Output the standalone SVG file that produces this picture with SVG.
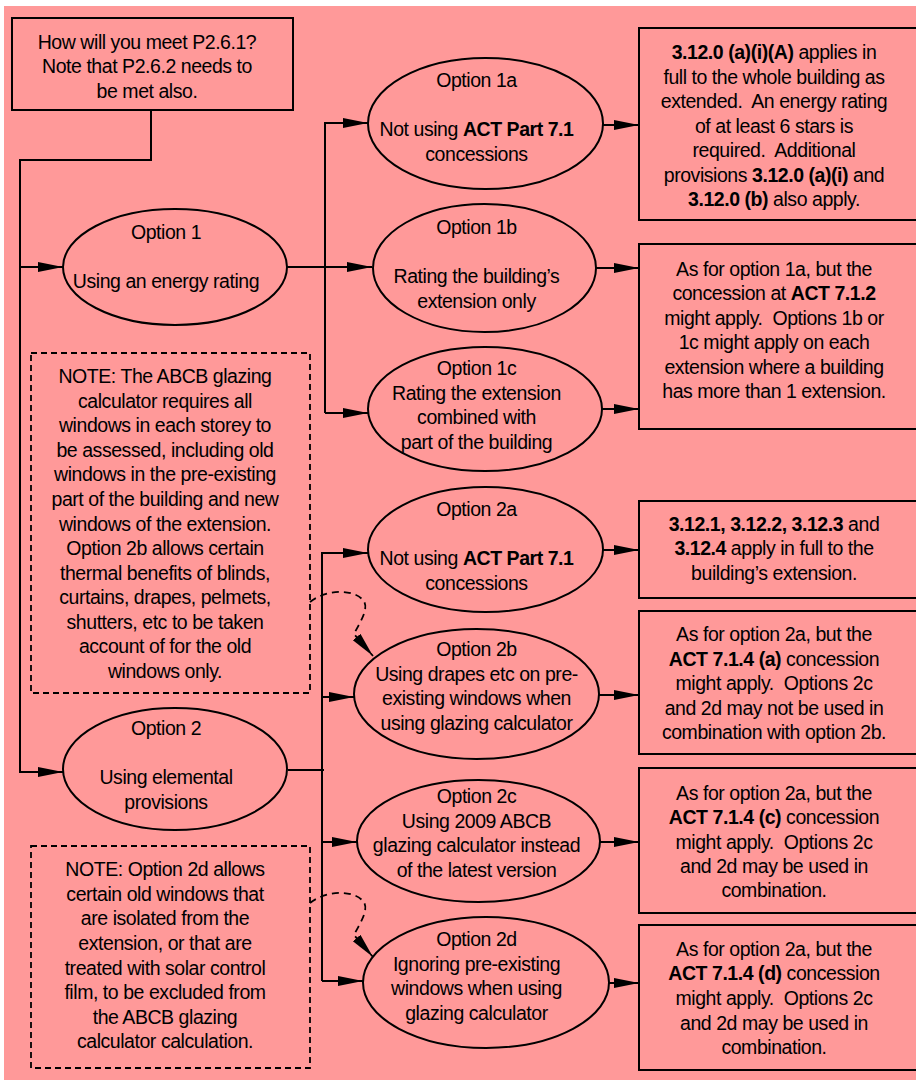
<svg xmlns="http://www.w3.org/2000/svg" width="916" height="1081" viewBox="0 0 916 1081">
<style>
.t{font-family:"Liberation Sans",Arial,sans-serif;font-size:19.5px;letter-spacing:-0.45px;text-anchor:middle;fill:#000}
.b{font-weight:bold}
.sh{fill:#FF9999;stroke:#000;stroke-width:2}
.nt{fill:none;stroke:#000;stroke-width:1.8;stroke-dasharray:6 4}
.c{fill:none;stroke:#000;stroke-width:2}
.cd{fill:none;stroke:#000;stroke-width:1.8;stroke-dasharray:7 5}
</style>
<defs>
<marker id="ah" markerUnits="userSpaceOnUse" markerWidth="26" markerHeight="12" refX="25" refY="5" orient="auto">
<path d="M0,0 L25,5 L0,10 Z" fill="#000"/>
</marker>
</defs>
<rect x="4" y="6" width="920" height="1074" fill="#FF9999"/>

<g id="connectors">
<path class="c" d="M151,110 V160 H20 V772 H63" marker-end="url(#ah)"/>
<path class="c" d="M20,267 H63" marker-end="url(#ah)"/>
<path class="c" d="M287,267 H372" marker-end="url(#ah)"/>
<path class="c" d="M325,413 V123 H368" marker-end="url(#ah)"/>
<path class="c" d="M325,413 H368" marker-end="url(#ah)"/>
<path class="c" d="M288,770 H324"/>
<path class="c" d="M322,981 V553 H368" marker-end="url(#ah)"/>
<path class="c" d="M322,697 H354" marker-end="url(#ah)"/>
<path class="c" d="M322,842 H357" marker-end="url(#ah)"/>
<path class="c" d="M322,981 H363" marker-end="url(#ah)"/>
<path class="c" d="M603,125 H639" marker-end="url(#ah)"/>
<path class="c" d="M596,268 H639" marker-end="url(#ah)"/>
<path class="c" d="M602,409 H639" marker-end="url(#ah)"/>
<path class="c" d="M603,550 H639" marker-end="url(#ah)"/>
<path class="c" d="M599,695 H639" marker-end="url(#ah)"/>
<path class="c" d="M600,842 H639" marker-end="url(#ah)"/>
<path class="c" d="M605,983 H639" marker-end="url(#ah)"/>
<path class="cd" d="M310,602 C325,590 352,588 363,600 C370,608 360,622 354,634 L373,656" marker-end="url(#ah)"/>
<path class="cd" d="M310,903 C325,891 352,889 363,901 C370,909 360,923 354,935 L373,957" marker-end="url(#ah)"/>
</g>

<g id="start">
<rect class="sh" x="12" y="18" width="281" height="92"/>
<text class="t"><tspan x="147" y="49">How will you meet P2.6.1?</tspan><tspan x="147" y="73">Note that P2.6.2 needs to</tspan><tspan x="147" y="97.5">be met also.</tspan></text>
</g>

<g id="option1">
<ellipse class="sh" cx="175" cy="267" rx="112" ry="58"/>
<text class="t"><tspan x="166" y="238.5">Option 1</tspan><tspan x="166" y="287.5">Using an energy rating</tspan></text>
</g>

<g id="option2">
<ellipse class="sh" cx="175" cy="769" rx="112" ry="61"/>
<text class="t"><tspan x="166" y="735">Option 2</tspan><tspan x="166" y="784.3">Using elemental</tspan><tspan x="166" y="808.8">provisions</tspan></text>
</g>

<g id="note1">
<rect class="nt" x="31" y="353" width="279" height="340"/>
<text class="t"><tspan x="165" y="383.3">NOTE: The ABCB glazing</tspan><tspan x="165" y="407.8">calculator requires all</tspan><tspan x="165" y="432.4">windows in each storey to</tspan><tspan x="165" y="456.9">be assessed, including old</tspan><tspan x="165" y="481.4">windows in the pre-existing</tspan><tspan x="165" y="506">part of the building and new</tspan><tspan x="165" y="530.5">windows of the extension.</tspan><tspan x="165" y="555">Option 2b allows certain</tspan><tspan x="165" y="579.5">thermal benefits of blinds,</tspan><tspan x="165" y="604.1">curtains, drapes, pelmets,</tspan><tspan x="165" y="628.6">shutters, etc to be taken</tspan><tspan x="165" y="653.1">account of for the old</tspan><tspan x="165" y="677.7">windows only.</tspan></text>
</g>

<g id="note2">
<rect class="nt" x="31" y="846" width="279" height="222"/>
<text class="t"><tspan x="165" y="876">NOTE: Option 2d allows</tspan><tspan x="165" y="900.6">certain old windows that</tspan><tspan x="165" y="925.2">are isolated from the</tspan><tspan x="165" y="949.8">extension, or that are</tspan><tspan x="165" y="974.5">treated with solar control</tspan><tspan x="165" y="999.1">film, to be excluded from</tspan><tspan x="165" y="1023.7">the ABCB glazing</tspan><tspan x="165" y="1048.3">calculator calculation.</tspan></text>
</g>

<g id="option1a">
<ellipse class="sh" cx="485.5" cy="123.5" rx="117.5" ry="65.5"/>
<text class="t"><tspan x="476.5" y="87.3">Option 1a</tspan><tspan x="476.5" y="136.3">Not using <tspan class="b">ACT Part 7.1</tspan></tspan><tspan x="476.5" y="160.8">concessions</tspan></text>
</g>

<g id="option1b">
<ellipse class="sh" cx="484.5" cy="268" rx="111.5" ry="64"/>
<text class="t"><tspan x="476.5" y="234.3">Option 1b</tspan><tspan x="476.5" y="283.3">Rating the building’s</tspan><tspan x="476.5" y="307.8">extension only</tspan></text>
</g>

<g id="option1c">
<ellipse class="sh" cx="485" cy="409" rx="117" ry="62"/>
<text class="t"><tspan x="476.5" y="375">Option 1c</tspan><tspan x="476.5" y="399.5">Rating the extension</tspan><tspan x="476.5" y="424">combined with</tspan><tspan x="476.5" y="448.5">part of the building</tspan></text>
</g>

<g id="option2a">
<ellipse class="sh" cx="485.5" cy="549.5" rx="117.5" ry="62.5"/>
<text class="t"><tspan x="476.5" y="516">Option 2a</tspan><tspan x="476.5" y="565">Not using <tspan class="b">ACT Part 7.1</tspan></tspan><tspan x="476.5" y="589.5">concessions</tspan></text>
</g>

<g id="option2b">
<ellipse class="sh" cx="476.5" cy="694" rx="122.5" ry="65"/>
<text class="t"><tspan x="476.5" y="656">Option 2b</tspan><tspan x="476.5" y="680.5">Using drapes etc on pre-</tspan><tspan x="476.5" y="705">existing windows when</tspan><tspan x="476.5" y="729.5">using glazing calculator</tspan></text>
</g>

<g id="option2c">
<ellipse class="sh" cx="478.5" cy="841" rx="121.5" ry="61"/>
<text class="t"><tspan x="476.5" y="803.3">Option 2c</tspan><tspan x="476.5" y="827.8">Using 2009 ABCB</tspan><tspan x="476.5" y="852.3">glazing calculator instead</tspan><tspan x="476.5" y="876.8">of the latest version</tspan></text>
</g>

<g id="option2d">
<ellipse class="sh" cx="486" cy="982.5" rx="123" ry="65.5"/>
<text class="t"><tspan x="476.5" y="946">Option 2d</tspan><tspan x="476.5" y="970.5">Ignoring pre-existing</tspan><tspan x="476.5" y="995">windows when using</tspan><tspan x="476.5" y="1019.5">glazing calculator</tspan></text>
</g>

<g id="result1a">
<rect class="sh" x="639" y="28" width="300" height="192"/>
<text class="t"><tspan x="774" y="59.3"><tspan class="b">3.12.0 (a)(i)(A)</tspan> applies in</tspan><tspan x="774" y="83.8">full to the whole building as</tspan><tspan x="774" y="108.3">extended.&#160; An energy rating</tspan><tspan x="774" y="132.8">of at least 6 stars is</tspan><tspan x="774" y="157.3">required.&#160; Additional</tspan><tspan x="774" y="181.8">provisions <tspan class="b">3.12.0 (a)(i)</tspan> and</tspan><tspan x="774" y="206.3"><tspan class="b">3.12.0 (b)</tspan> also apply.</tspan></text>
</g>

<g id="result1bc">
<rect class="sh" x="639" y="244" width="300" height="185"/>
<text class="t"><tspan x="774" y="275.7">As for option 1a, but the</tspan><tspan x="774" y="300.2">concession at <tspan class="b">ACT 7.1.2</tspan></tspan><tspan x="774" y="324.7">might apply.&#160; Options 1b or</tspan><tspan x="774" y="349.2">1c might apply on each</tspan><tspan x="774" y="373.7">extension where a building</tspan><tspan x="774" y="398.2">has more than 1 extension.</tspan></text>
</g>

<g id="result2a">
<rect class="sh" x="639" y="501" width="300" height="97"/>
<text class="t"><tspan x="774" y="530.5"><tspan class="b">3.12.1, 3.12.2, 3.12.3</tspan> and</tspan><tspan x="774" y="555"><tspan class="b">3.12.4</tspan> apply in full to the</tspan><tspan x="774" y="579.5">building’s extension.</tspan></text>
</g>

<g id="result2b">
<rect class="sh" x="639" y="611" width="300" height="143"/>
<text class="t"><tspan x="774" y="641">As for option 2a, but the</tspan><tspan x="774" y="665.5"><tspan class="b">ACT 7.1.4 (a)</tspan> concession</tspan><tspan x="774" y="690">might apply.&#160; Options 2c</tspan><tspan x="774" y="714.5">and 2d may not be used in</tspan><tspan x="774" y="739">combination with option 2b.</tspan></text>
</g>

<g id="result2c">
<rect class="sh" x="639" y="768" width="300" height="145"/>
<text class="t"><tspan x="774" y="800">As for option 2a, but the</tspan><tspan x="774" y="824.3"><tspan class="b">ACT 7.1.4 (c)</tspan> concession</tspan><tspan x="774" y="848.6">might apply.&#160; Options 2c</tspan><tspan x="774" y="872.8">and 2d may be used in</tspan><tspan x="774" y="897">combination.</tspan></text>
</g>

<g id="result2d">
<rect class="sh" x="639" y="925" width="300" height="145"/>
<text class="t"><tspan x="774" y="955.7">As for option 2a, but the</tspan><tspan x="774" y="980.3"><tspan class="b">ACT 7.1.4 (d)</tspan> concession</tspan><tspan x="774" y="1004.9">might apply.&#160; Options 2c</tspan><tspan x="774" y="1029.5">and 2d may be used in</tspan><tspan x="774" y="1054">combination.</tspan></text>
</g>
</svg>
